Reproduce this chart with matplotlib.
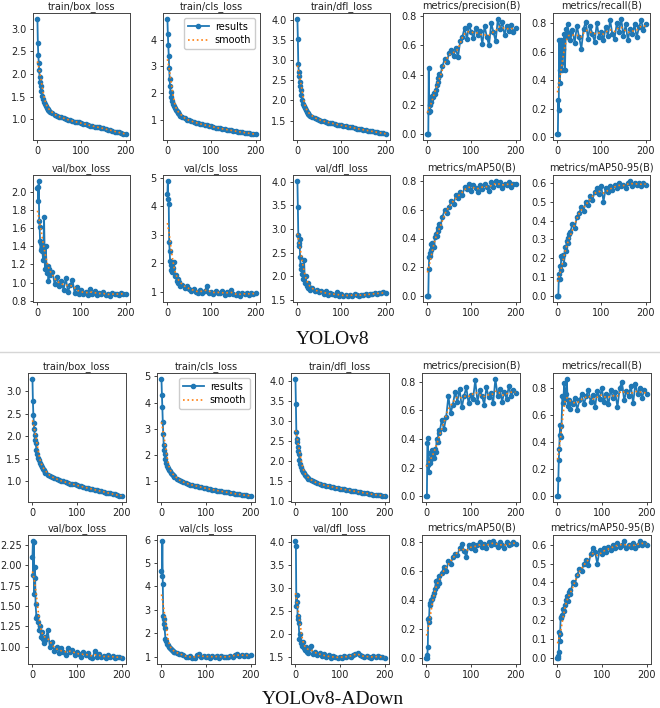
import numpy as np
import matplotlib

matplotlib.use('Agg')
import matplotlib.pyplot as plt
from matplotlib.ticker import MultipleLocator

EPOCHS = [1, 2, 3, 4, 5, 6, 7, 8,
          10, 12, 14, 16, 18, 20, 22, 24, 26, 28, 30,
          35, 40, 45, 50, 55, 60, 65, 70, 75, 80, 85, 90, 95, 100, 105, 110,
          115, 120, 125, 130, 135, 140, 145, 150, 155, 160, 165, 170, 175,
          180, 185, 190, 195, 200]

TITLES = ['train/box_loss', 'train/cls_loss', 'train/dfl_loss',
          'metrics/precision(B)', 'metrics/recall(B)',
          'val/box_loss', 'val/cls_loss', 'val/dfl_loss',
          'metrics/mAP50(B)', 'metrics/mAP50-95(B)']

# y tick spacing per panel, as in the reference
YSTEP_V8 = [0.5, 1, 0.5, 0.2, 0.2, 0.2, 1, 0.5, 0.2, 0.1]
YSTEP_AD = [0.5, 1, 0.5, 0.2, 0.2, 0.25, 1, 0.5, 0.2, 0.1]

# ---- YOLOv8 ----
v8_train_box = [3.22, 2.68, 2.42, 2.25, 2.08, 1.93, 1.83, 1.74,
                1.62, 1.52, 1.45, 1.39, 1.34, 1.30, 1.26, 1.23, 1.20, 1.18, 1.16,
                1.13, 1.10, 1.08, 1.06, 1.04, 1.02, 1.01, 0.99, 0.98, 0.96, 0.95, 0.94,
                0.93, 0.91, 0.90, 0.89, 0.88, 0.86, 0.85, 0.84, 0.83, 0.82, 0.81, 0.80,
                0.78, 0.77, 0.76, 0.75, 0.73, 0.72, 0.71, 0.70, 0.68, 0.67]
v8_train_cls = [4.78, 4.20, 3.78, 3.40, 2.95, 2.52, 2.25, 2.05,
                1.85, 1.70, 1.60, 1.52, 1.45, 1.38, 1.32, 1.28, 1.24, 1.20, 1.16,
                1.10, 1.05, 1.01, 0.98, 0.95, 0.92, 0.89, 0.87, 0.85, 0.83, 0.81, 0.79,
                0.77, 0.75, 0.73, 0.71, 0.70, 0.68, 0.66, 0.65, 0.63, 0.62, 0.60, 0.59,
                0.57, 0.56, 0.55, 0.53, 0.52, 0.51, 0.50, 0.48, 0.47, 0.46]
v8_train_dfl = [4.02, 3.52, 2.90, 2.70, 2.60, 2.45, 2.35, 2.25,
                2.12, 2.00, 1.92, 1.85, 1.80, 1.75, 1.72, 1.69, 1.66, 1.64, 1.62,
                1.59, 1.56, 1.54, 1.52, 1.50, 1.48, 1.47, 1.45, 1.44, 1.43, 1.42, 1.40,
                1.39, 1.38, 1.37, 1.36, 1.35, 1.34, 1.33, 1.31, 1.30, 1.29, 1.28, 1.27,
                1.26, 1.25, 1.24, 1.23, 1.22, 1.21, 1.20, 1.19, 1.18, 1.16]
v8_precision = [0.0, 0.0, 0.0, 0.45, 0.15, 0.20, 0.16, 0.22,
                0.24, 0.26, 0.25, 0.28, 0.27, 0.30, 0.33, 0.35, 0.38, 0.41, 0.40,
                0.46, 0.51, 0.49, 0.55, 0.57, 0.53, 0.58, 0.52, 0.63, 0.66, 0.72, 0.64,
                0.74, 0.69, 0.65, 0.72, 0.67, 0.70, 0.61, 0.73, 0.66, 0.60, 0.75, 0.69,
                0.63, 0.78, 0.71, 0.76, 0.67, 0.73, 0.70, 0.74, 0.69, 0.72]
v8_recall = [0.02, 0.02, 0.26, 0.19, 0.68, 0.38, 0.47, 0.52,
             0.68, 0.47, 0.62, 0.72, 0.47, 0.76, 0.74, 0.79, 0.70, 0.73, 0.68,
             0.75, 0.66, 0.78, 0.70, 0.62, 0.76, 0.81, 0.69, 0.78, 0.72, 0.67, 0.80,
             0.70, 0.74, 0.68, 0.77, 0.71, 0.82, 0.72, 0.69, 0.80, 0.74, 0.83, 0.71,
             0.79, 0.68, 0.76, 0.72, 0.79, 0.70, 0.77, 0.82, 0.75, 0.79]
v8_val_box = [2.04, 2.05, 1.90, 2.12, 1.68, 1.61, 1.46, 1.36,
              1.44, 1.35, 1.25, 1.72, 1.15, 1.40, 1.11, 1.18, 1.02, 1.15, 1.08,
              1.12, 0.98, 1.06, 0.96, 1.02, 0.92, 1.05, 0.90, 0.97, 1.03, 0.89, 0.95,
              0.87, 0.92, 0.88, 0.90, 0.86, 0.93, 0.88, 0.91, 0.86, 0.89, 0.87, 0.90,
              0.86, 0.88, 0.85, 0.89, 0.87, 0.88, 0.86, 0.89, 0.87, 0.88]
v8_val_cls = [4.45, 4.90, 4.25, 4.08, 2.75, 2.45, 2.10, 1.95,
              1.78, 1.70, 1.85, 2.05, 1.55, 1.60, 1.40, 1.45, 1.30, 1.35, 1.22,
              1.25, 1.15, 1.20, 1.10, 1.05, 1.12, 1.00, 0.95, 1.08, 0.98, 1.02, 1.20,
              0.96, 1.00, 0.92, 1.05, 0.97, 0.95, 1.03, 0.90, 1.00, 0.94, 1.08, 0.93,
              0.88, 0.96, 0.85, 0.98, 0.92, 0.95, 0.90, 0.97, 0.93, 0.95]
v8_val_dfl = [4.02, 3.46, 2.88, 2.70, 2.65, 2.80, 2.40, 2.25,
              2.15, 2.05, 1.95, 2.35, 1.85, 2.00, 1.80, 1.85, 1.75, 1.78, 1.72,
              1.75, 1.68, 1.72, 1.66, 1.70, 1.63, 1.68, 1.60, 1.65, 1.62, 1.60, 1.66,
              1.58, 1.62, 1.58, 1.60, 1.59, 1.61, 1.58, 1.63, 1.60, 1.59, 1.61, 1.60,
              1.62, 1.61, 1.63, 1.62, 1.64, 1.63, 1.65, 1.64, 1.66, 1.64]
v8_map50 = [0.0, 0.0, 0.0, 0.19, 0.27, 0.28, 0.30, 0.32,
            0.36, 0.37, 0.35, 0.34, 0.41, 0.43, 0.42, 0.47, 0.45, 0.50, 0.48,
            0.55, 0.60, 0.58, 0.62, 0.66, 0.64, 0.70, 0.68, 0.72, 0.70, 0.76, 0.74,
            0.78, 0.73, 0.77, 0.75, 0.72, 0.77, 0.74, 0.78, 0.76, 0.73, 0.79, 0.76,
            0.80, 0.77, 0.79, 0.75, 0.78, 0.77, 0.79, 0.76, 0.78, 0.78]
v8_map5095 = [0.0, 0.0, 0.0, 0.09, 0.12, 0.09, 0.16, 0.14,
              0.21, 0.20, 0.22, 0.17, 0.26, 0.24, 0.29, 0.31, 0.28, 0.33, 0.34,
              0.38, 0.36, 0.42, 0.44, 0.47, 0.45, 0.50, 0.48, 0.53, 0.51, 0.55, 0.57,
              0.54, 0.58, 0.50, 0.57, 0.55, 0.58, 0.56, 0.59, 0.57, 0.60, 0.58, 0.59,
              0.57, 0.60, 0.61, 0.58, 0.60, 0.59, 0.60, 0.58, 0.60, 0.59]

# ---- YOLOv8-ADown ----
ad_train_box = [3.28, 2.78, 2.48, 2.30, 2.15, 2.02, 1.92, 1.84,
                1.70, 1.60, 1.52, 1.46, 1.40, 1.35, 1.31, 1.27, 1.24, 1.21, 1.18,
                1.14, 1.11, 1.09, 1.06, 1.04, 1.02, 1.00, 0.99, 0.97, 0.96, 0.94, 0.93,
                0.92, 0.90, 0.89, 0.88, 0.86, 0.85, 0.84, 0.83, 0.82, 0.80, 0.79, 0.78,
                0.77, 0.76, 0.74, 0.73, 0.72, 0.71, 0.70, 0.68, 0.67, 0.66]
ad_train_cls = [4.90, 4.30, 3.82, 3.25, 2.80, 2.40, 2.20, 2.05,
                1.85, 1.70, 1.60, 1.52, 1.45, 1.38, 1.33, 1.28, 1.24, 1.20, 1.16,
                1.10, 1.05, 1.01, 0.97, 0.94, 0.91, 0.88, 0.86, 0.84, 0.82, 0.80, 0.78,
                0.76, 0.74, 0.72, 0.70, 0.69, 0.67, 0.65, 0.64, 0.62, 0.61, 0.59, 0.58,
                0.56, 0.55, 0.53, 0.52, 0.51, 0.49, 0.48, 0.47, 0.46, 0.44]
ad_train_dfl = [4.06, 3.42, 2.72, 2.55, 2.48, 2.35, 2.25, 2.18,
                2.03, 1.92, 1.84, 1.78, 1.72, 1.68, 1.64, 1.61, 1.58, 1.56, 1.54,
                1.51, 1.48, 1.46, 1.44, 1.42, 1.40, 1.39, 1.37, 1.36, 1.35, 1.34, 1.32,
                1.31, 1.30, 1.29, 1.28, 1.27, 1.26, 1.25, 1.24, 1.23, 1.22, 1.21, 1.20,
                1.19, 1.18, 1.17, 1.16, 1.15, 1.15, 1.14, 1.13, 1.12, 1.11]
ad_precision = [0.0, 0.0, 0.37, 0.41, 0.22, 0.17, 0.25, 0.23,
                0.30, 0.26, 0.32, 0.28, 0.27, 0.33, 0.31, 0.40, 0.38, 0.46, 0.44,
                0.53, 0.47, 0.55, 0.70, 0.58, 0.64, 0.73, 0.66, 0.75, 0.62, 0.70, 0.76,
                0.65, 0.71, 0.68, 0.81, 0.66, 0.74, 0.70, 0.64, 0.76, 0.69, 0.72, 0.65,
                0.82, 0.70, 0.75, 0.66, 0.73, 0.68, 0.77, 0.70, 0.74, 0.72]
ad_recall = [0.0, 0.0, 0.13, 0.27, 0.35, 0.45, 0.53, 0.44,
             0.52, 0.74, 0.69, 0.84, 0.72, 0.76, 0.87, 0.67, 0.71, 0.65, 0.70,
             0.68, 0.73, 0.64, 0.71, 0.76, 0.68, 0.74, 0.79, 0.70, 0.75, 0.66, 0.78,
             0.72, 0.80, 0.70, 0.76, 0.68, 0.79, 0.73, 0.77, 0.66, 0.80, 0.85, 0.71,
             0.78, 0.74, 0.82, 0.69, 0.83, 0.76, 0.80, 0.73, 0.79, 0.76]
ad_val_box = [2.10, 2.30, 1.88, 2.29, 1.65, 1.98, 1.85, 1.52,
              1.35, 1.38, 1.30, 1.20, 1.25, 1.12, 1.18, 1.10, 1.05, 1.12, 1.08,
              1.20, 1.00, 1.06, 0.95, 1.00, 0.92, 0.98, 0.94, 0.90, 0.98, 0.93, 0.96,
              0.90, 0.94, 0.91, 0.88, 0.93, 0.90, 0.92, 0.87, 0.86, 0.95, 0.88, 0.91,
              0.87, 0.89, 0.86, 0.90, 0.87, 0.89, 0.86, 0.88, 0.87, 0.86]
ad_val_cls = [4.65, 4.45, 5.95, 4.10, 2.75, 2.40, 2.60, 2.20,
              1.75, 1.65, 1.55, 1.48, 1.42, 1.35, 1.30, 1.28, 1.22, 1.20, 1.18,
              1.15, 1.10, 1.12, 1.05, 1.00, 0.98, 1.02, 0.93, 0.95, 1.05, 1.10, 0.97,
              1.02, 0.98, 1.03, 0.95, 1.01, 0.98, 1.04, 0.95, 1.02, 0.97, 1.00, 0.96,
              1.03, 1.00, 1.06, 1.10, 1.02, 1.08, 1.04, 1.06, 1.03, 1.05]
ad_val_dfl = [4.02, 3.90, 2.62, 2.85, 2.70, 2.32, 2.40, 2.25,
              1.90, 2.00, 1.80, 1.75, 1.82, 1.70, 1.66, 1.72, 1.62, 1.68, 1.60,
              1.75, 1.58, 1.62, 1.55, 1.60, 1.52, 1.56, 1.50, 1.54, 1.49, 1.52, 1.50,
              1.48, 1.51, 1.49, 1.52, 1.50, 1.53, 1.51, 1.55, 1.57, 1.60, 1.54, 1.52,
              1.50, 1.53, 1.51, 1.49, 1.52, 1.50, 1.53, 1.51, 1.50, 1.49]
ad_map50 = [0.0, 0.0, 0.02, 0.08, 0.27, 0.25, 0.28, 0.37,
            0.38, 0.40, 0.41, 0.43, 0.45, 0.48, 0.53, 0.50, 0.54, 0.52, 0.57,
            0.59, 0.63, 0.60, 0.67, 0.65, 0.70, 0.72, 0.71, 0.76, 0.79, 0.74, 0.70,
            0.78, 0.76, 0.79, 0.75, 0.78, 0.80, 0.77, 0.79, 0.76, 0.80, 0.78, 0.81,
            0.79, 0.77, 0.80, 0.78, 0.76, 0.80, 0.78, 0.79, 0.80, 0.79]
ad_map5095 = [0.0, 0.0, 0.01, 0.03, 0.14, 0.09, 0.13, 0.21,
              0.22, 0.23, 0.26, 0.25, 0.28, 0.31, 0.33, 0.30, 0.35, 0.36, 0.34,
              0.40, 0.39, 0.44, 0.47, 0.46, 0.50, 0.52, 0.49, 0.55, 0.58, 0.56, 0.50,
              0.57, 0.55, 0.58, 0.56, 0.59, 0.57, 0.60, 0.58, 0.61, 0.59, 0.60, 0.62,
              0.58, 0.60, 0.59, 0.61, 0.58, 0.60, 0.62, 0.60, 0.61, 0.60]

V8 = [v8_train_box, v8_train_cls, v8_train_dfl, v8_precision, v8_recall,
      v8_val_box, v8_val_cls, v8_val_dfl, v8_map50, v8_map5095]
ADOWN = [ad_train_box, ad_train_cls, ad_train_dfl, ad_precision, ad_recall,
         ad_val_box, ad_val_cls, ad_val_dfl, ad_map50, ad_map5095]

W, H = 660, 708


def smooth(x, y, sigma=6.0):
    # gaussian weighted average over epochs
    x = np.asarray(x, float)
    y = np.asarray(y, float)
    w = np.exp(-(x[:, None] - x[None, :]) ** 2 / (2 * sigma ** 2))
    return (w @ y) / w.sum(axis=1)


def add_ax(fig, left, top, width, height):
    return fig.add_axes([left / W, 1 - (top + height) / H, width / W, height / H])


def draw_group(fig, data, ysteps, lefts, width, tops, height):
    for i, (title, y) in enumerate(zip(TITLES, data)):
        r, c = divmod(i, 5)
        ax = add_ax(fig, lefts[c], tops[r], width, height)
        ax.plot(EPOCHS, y, marker='o', markersize=3.0, linewidth=1.3,
                color='#1f77b4', label='results')
        ax.plot(EPOCHS, smooth(EPOCHS, y), ':', linewidth=1.2,
                color='#ff7f0e', label='smooth')
        ax.set_title(title, fontsize=7, pad=3, color='#222222')
        ax.set_xticks([0, 100, 200])
        ax.yaxis.set_major_locator(MultipleLocator(ysteps[i]))
        ax.tick_params(labelsize=7, length=2.5, width=0.6, pad=2,
                       colors='#222222')
        for s in ax.spines.values():
            s.set_linewidth(0.7)
            s.set_color('#444444')
        if i == 1:
            ax.legend(loc='upper right', fontsize=7, handlelength=2.2,
                      borderpad=0.4, labelspacing=0.35, handletextpad=0.6,
                      framealpha=1.0)


fig = plt.figure(figsize=(W / 100, H / 100), dpi=100)

draw_group(fig, V8, YSTEP_V8, [33, 163, 293, 423, 553], 97, [13, 175], 127)
draw_group(fig, ADOWN, YSTEP_AD, [28, 157, 291, 422, 553], 98, [373, 535], 129)

fig.text(333 / W, 1 - 340 / H, 'YOLOv8', ha='center', va='center',
         family='Liberation Serif', fontsize=14, color='#111111')
fig.text(333 / W, 1 - 700 / H, 'YOLOv8-ADown', ha='center', va='center',
         family='Liberation Serif', fontsize=14, color='#111111')
fig.add_artist(plt.Line2D([0, 1], [1 - 352 / H, 1 - 352 / H],
                          transform=fig.transFigure, color='#d6d6d6',
                          linewidth=1.0))

fig.savefig('out.png', dpi=100)
